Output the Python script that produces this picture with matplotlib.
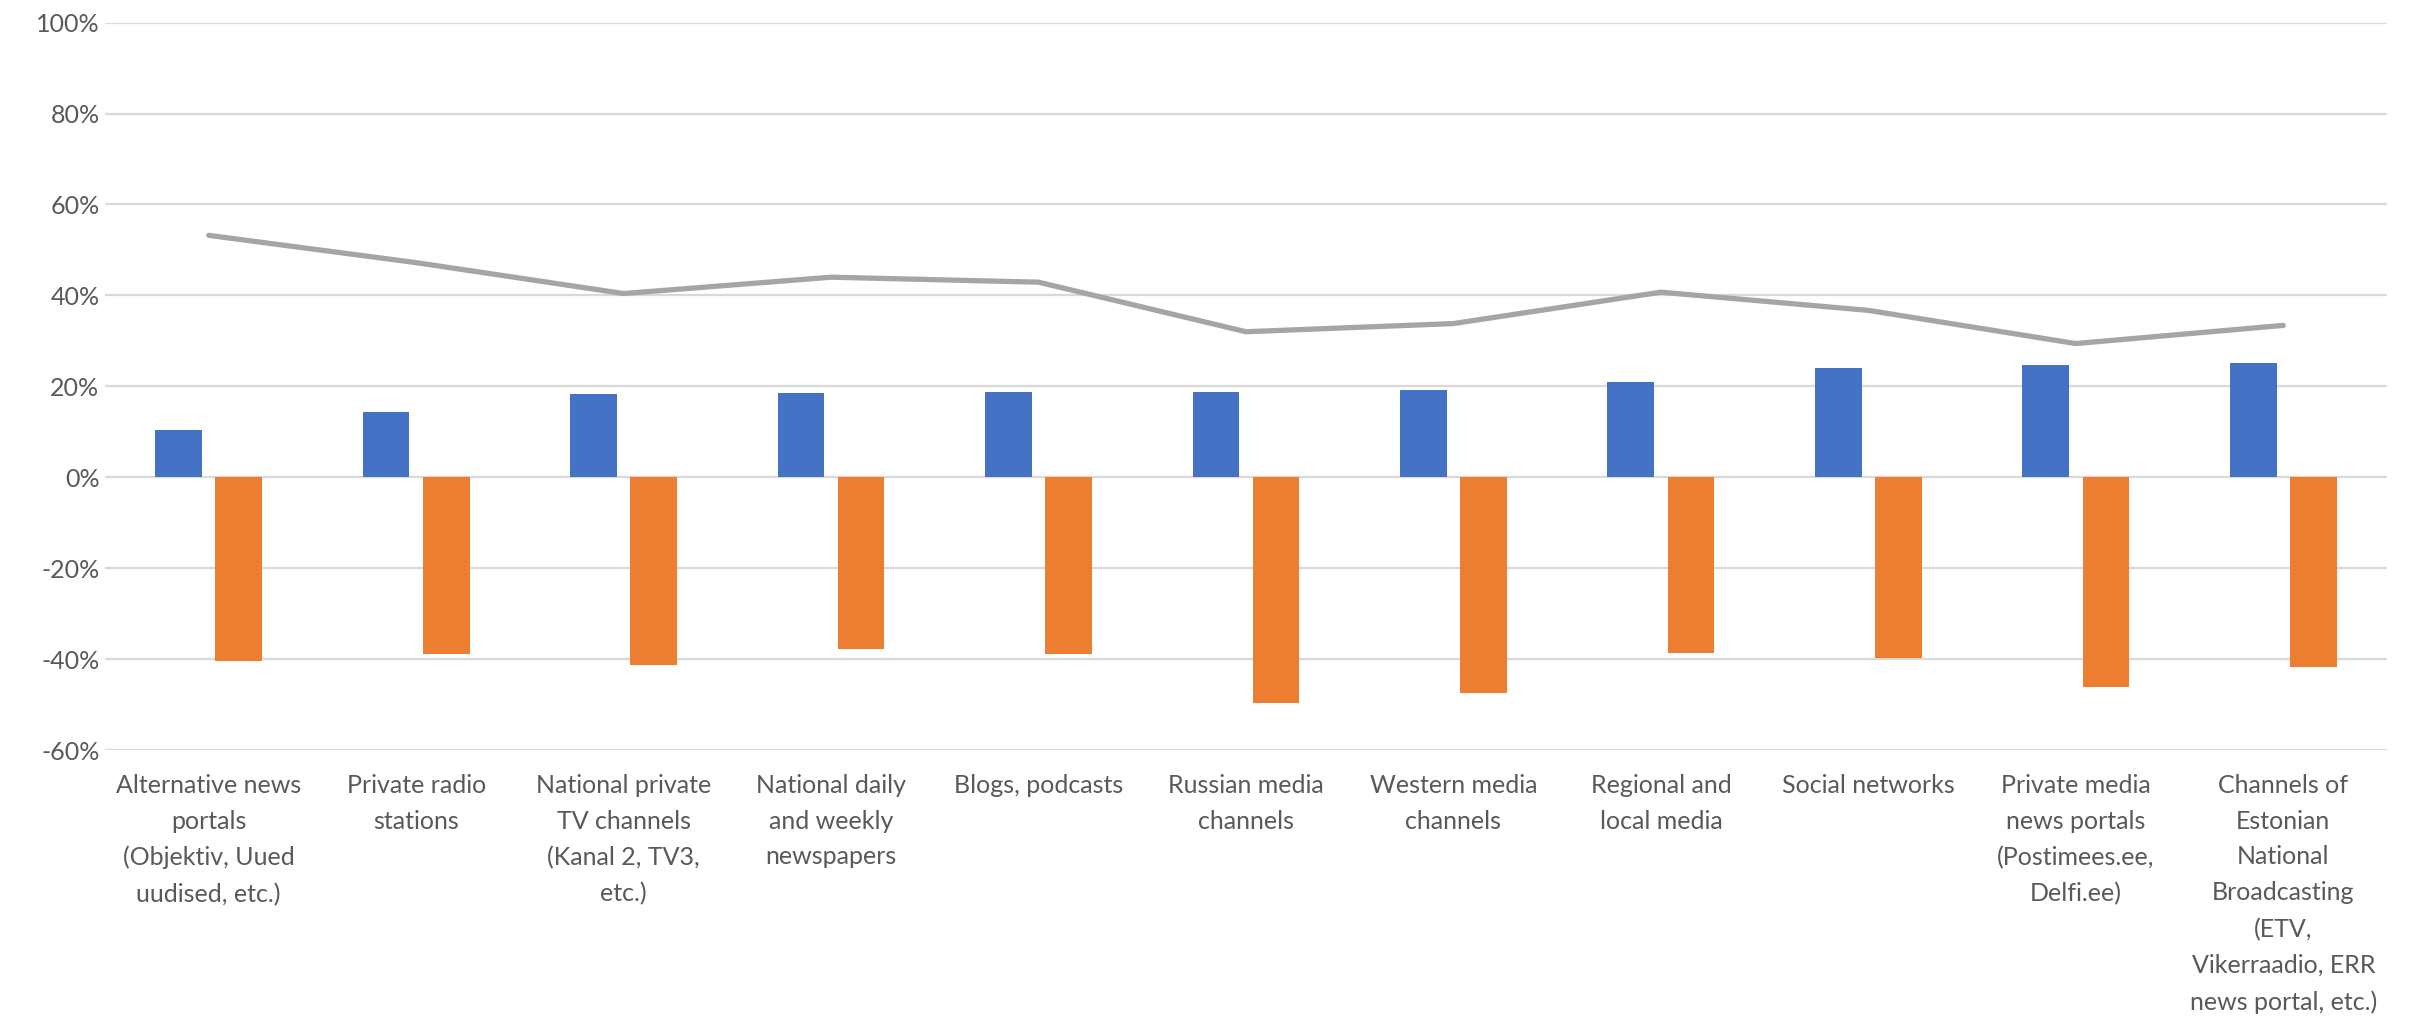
import matplotlib
matplotlib.use("Agg")
import matplotlib.pyplot as plt
import numpy as np
from matplotlib.ticker import FuncFormatter

categories = [
    "Alternative news\nportals\n(Objektiv, Uued\nuudised, etc.)",
    "Private radio\nstations",
    "National private\nTV channels\n(Kanal 2, TV3,\netc.)",
    "National daily\nand weekly\nnewspapers",
    "Blogs, podcasts",
    "Russian media\nchannels",
    "Western media\nchannels",
    "Regional and\nlocal media",
    "Social networks",
    "Private media\nnews portals\n(Postimees.ee,\nDelfi.ee)",
    "Channels of\nEstonian\nNational\nBroadcasting\n(ETV,\nVikerraadio, ERR\nnews portal, etc.)",
]
positive = [0.104, 0.143, 0.184, 0.185, 0.187, 0.187, 0.192, 0.210, 0.240, 0.247, 0.251]
negative = [-0.405, -0.389, -0.414, -0.378, -0.388, -0.497, -0.475, -0.386, -0.397, -0.462, -0.417]
line_values = [0.532, 0.472, 0.404, 0.440, 0.429, 0.320, 0.338, 0.407, 0.367, 0.294, 0.334]
y_ticks = [-0.6, -0.4, -0.2, 0.0, 0.2, 0.4, 0.6, 0.8, 1.0]

plt.rcParams['font.family'] = ['Lato', 'DejaVu Sans']

fig = plt.figure(figsize=(24.3, 10.17), dpi=100)
ax = fig.add_axes([0.0432, 0.2625, 0.9391, 0.7153])

x = np.arange(len(categories))
bw = 0.225
off = 0.145
ax.bar(x - off, positive, width=bw, color="#4472C4", zorder=3)
ax.bar(x + off, negative, width=bw, color="#ED7D31", zorder=3)
ax.plot(x, line_values, color="#A5A5A5", linewidth=3.8, solid_capstyle="round",
        solid_joinstyle="round", zorder=4)

ax.set_xlim(-0.5, len(categories) - 0.5)
ax.set_ylim(-0.6, 1.0)
ax.set_yticks(y_ticks)
ax.yaxis.set_major_formatter(FuncFormatter(lambda v, p: f"{round(v * 100):d}%"))
ax.grid(axis="y", color="#D9D9D9", linewidth=1.6, zorder=0)
ax.set_axisbelow(True)
for s in ax.spines.values():
    s.set_visible(False)

ax.set_xticks(x)
ax.set_xticklabels(categories, linespacing=1.68, va="top")
ax.tick_params(axis="x", length=0, pad=17, labelsize=18, labelcolor="#595959")
ax.tick_params(axis="y", length=0, pad=4, labelsize=18, labelcolor="#595959")

fig.savefig("out.png", dpi=100, facecolor="white")
